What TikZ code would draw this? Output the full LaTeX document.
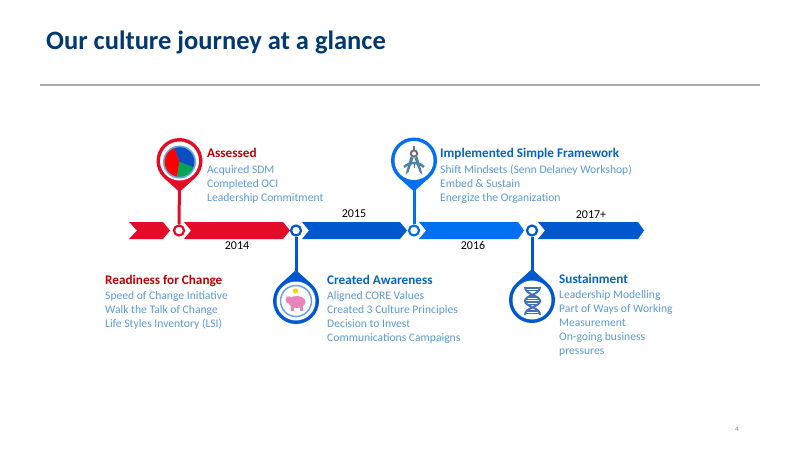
\documentclass[tikz,border=0pt]{standalone}
\usepackage{fontspec}
\setmainfont{Carlito}
\definecolor{cred}{HTML}{E30B25}
\definecolor{cblueA}{HTML}{0058D0}
\definecolor{cblueB}{HTML}{0070F0}
\definecolor{ctitle}{HTML}{003A70}
\definecolor{cbody}{HTML}{5B9BD5}
\definecolor{chred}{HTML}{C00000}
\definecolor{chblue}{HTML}{0563C8}
\definecolor{cring}{HTML}{6FA3DC}
\definecolor{csteel}{HTML}{4A82A8}
\definecolor{cgreyi}{HTML}{6E6E78}
\definecolor{cdna}{HTML}{4472B8}
\definecolor{cpig}{HTML}{E884BC}
\definecolor{cpieg}{HTML}{00A651}
\definecolor{cpieb}{HTML}{0A4FC0}
\tikzset{
  x=1pt,y=-1pt,
  headtxt/.style={anchor=base west,inner sep=0pt,font=\fontsize{13.2}{15}\selectfont\bfseries},
  bodytxt/.style={anchor=north west,inner sep=0pt,align=left,text=cbody,font=\fontsize{11.6}{14}\selectfont},
  yeartxt/.style={anchor=center,inner sep=0pt,font=\fontsize{12}{14}\selectfont,text=black},
  dot/.style={circle,draw=#1,line width=2.2pt,fill=white,minimum size=10pt,inner sep=0pt},
  pinhead/.style={circle,draw=none,minimum size=46pt,inner sep=0pt},
}
\newcommand{\pinshape}[4]{% x y dir colour
  \fill[#4] ({#1-23*sin(42)},{#2-#3*23*cos(42)}) -- (#1,{#2-#3*31}) -- ({#1+23*sin(42)},{#2-#3*23*cos(42)}) -- cycle;
  \fill[#4] (#1,#2) circle[radius=23];
  \fill[white] (#1,#2) circle[radius=19.5];
}
\begin{document}
\begin{tikzpicture}
\useasboundingbox (0,0) rectangle (800,450);
\fill[white] (0,0) rectangle (800,450);
\node[anchor=base west,inner sep=0pt,text=ctitle,font=\fontsize{26.5}{30}\selectfont\bfseries] (title) at (46,49) {Our culture journey at a glance};
\coordinate (ruleL) at (40,85); \coordinate (ruleR) at (760,85);
\draw[color=black!32,line width=1.2pt] (ruleL) -- (ruleR);
\node[anchor=center,inner sep=0pt,text=black!45,font=\fontsize{7}{8}\selectfont] (pageno) at (737,429) {4};
% chevrons
\fill[cred] (129,222) -- (163,222) -- (170,230.5) -- (163,239) -- (129,239) -- (137,230.5) -- cycle;
\fill[cred] (184,222) -- (283,222) -- (290,230.5) -- (283,239) -- (184,239) -- (191,230.5) -- cycle;
\fill[cblueA] (302,222) -- (400,222) -- (407,230.5) -- (400,239) -- (302,239) -- (309,230.5) -- cycle;
\fill[cblueB] (419,222) -- (518,222) -- (524,230.5) -- (518,239) -- (419,239) -- (426,230.5) -- cycle;
\fill[cblueA] (538,222) -- (638,222) -- (644,230.5) -- (638,239) -- (538,239) -- (545,230.5) -- cycle;
% pins
\pinshape{179.5}{161}{-1}{cred}
\pinshape{296}{301}{1}{cblueA}
\pinshape{414}{160.5}{-1}{cblueB}
\pinshape{532}{300}{1}{cblueA}
\node[pinhead] (pinA) at (179.5,161) {};
\node[pinhead] (pinB) at (296,301) {};
\node[pinhead] (pinC) at (414,160.5) {};
\node[pinhead] (pinD) at (532,300) {};
\node[dot=cred] (dotA) at (179,230.5) {};
\node[dot=cblueA] (dotB) at (296,230.5) {};
\node[dot=cblueB] (dotC) at (414,230.5) {};
\node[dot=cblueA] (dotD) at (532,230.5) {};
\draw[cred,line width=3pt] (pinA.south) -- (dotA.north);
\draw[cblueA,line width=3pt] (pinB.north) -- (dotB.south);
\draw[cblueB,line width=3pt] (pinC.south) -- (dotC.north);
\draw[cblueA,line width=3pt] (pinD.north) -- (dotD.south);
% pie icon
\fill[cring] (179.5,162) circle[radius=16.5];
\begin{scope}
  \clip (179.5,162) circle[radius=14.8];
  \fill[cpieb] (179.5,162) -- (172,142) -- (205,142) -- (205,172) -- cycle;
  \fill[red] (179.5,162) -- (172,142) -- (155,142) -- (155,190) -- (175,190) -- cycle;
  \fill[cpieg] (179.5,162) -- (205,172) -- (205,190) -- (175,190) -- cycle;
\end{scope}
% compass icon
\draw[cgreyi,line width=2pt] (414,146) -- (414,150);
\draw[cgreyi,line width=2pt] (414,153.5) circle[radius=3.2];
\draw[cgreyi,line width=1pt] (414,162) -- (414,168);
\fill[csteel] (410.5,156.5) -- (405.5,174.5) -- (408.5,172) -- (413.5,158) -- cycle;
\fill[csteel] (417.5,156.5) -- (422.5,174.5) -- (419.5,172) -- (414.5,158) -- cycle;
\draw[csteel,line width=2.4pt] (404,167) .. controls (410,161.5) and (418,161.5) .. (424,167);
% piggy icon
\draw[cring,line width=1.5pt] (296,301) circle[radius=15.5];
\fill[yellow!75!orange] (295.5,291) circle[radius=2.7];
\fill[cpig] (297,302) ellipse[x radius=8.5,y radius=6];
\fill[cpig] (289,300) circle[radius=3.5];
\fill[cpig] (285.5,296.5) -- (290,296.5) -- (289,300) -- cycle;
\fill[cpig] (291,306) rectangle (294,310.5);
\fill[cpig] (300,306) rectangle (303,310.5);
% dna icon
\draw[line width=2pt,cdna] (525,287) .. controls (525,295) and (540,295) .. (540,301) .. controls (540,307) and (525,307) .. (525,315);
\draw[line width=2pt,cdna] (540,287) .. controls (540,295) and (525,295) .. (525,301) .. controls (525,307) and (540,307) .. (540,315);
\foreach \yy/\aa/\bb in {288/526/539,290.5/527/538,297/528/537,299.5/526/539,302/526/539,304.5/528/537,311/527/538,313.5/526/539}
  \draw[line width=1.1pt,cdna] (\aa,\yy) -- (\bb,\yy);
% texts
\node[headtxt,text=chred] (hA) at (207,157.5) {Assessed};
\node[bodytxt] (bA) at (207,165) {Acquired SDM\\Completed OCI\\Leadership Commitment};
\node[headtxt,text=chred] (hR) at (105,284.5) {Readiness for Change};
\node[bodytxt] (bR) at (105,291) {Speed of Change Initiative\\Walk the Talk of Change\\Life Styles Inventory (LSI)};
\node[headtxt,text=chblue] (hB) at (327,284.5) {Created Awareness};
\node[bodytxt] (bB) at (327,291) {Aligned CORE Values\\Created 3 Culture Principles\\Decision to Invest\\Communications Campaigns};
\node[headtxt,text=chblue] (hC) at (440,157.5) {Implemented Simple Framework};
\node[bodytxt] (bC) at (440,165) {Shift Mindsets (Senn Delaney Workshop)\\Embed \& Sustain\\Energize the Organization};
\node[headtxt,text=chblue] (hD) at (559,283.5) {Sustainment};
\node[bodytxt] (bD) at (559,290) {Leadership Modelling\\Part of Ways of Working\\Measurement\\On-going business\\pressures};
\node[yeartxt] (y14) at (237,246) {2014};
\node[yeartxt] (y15) at (354,214) {2015};
\node[yeartxt] (y16) at (473,245) {2016};
\node[yeartxt] (y17) at (591,215) {2017+};
\end{tikzpicture}
\end{document}
